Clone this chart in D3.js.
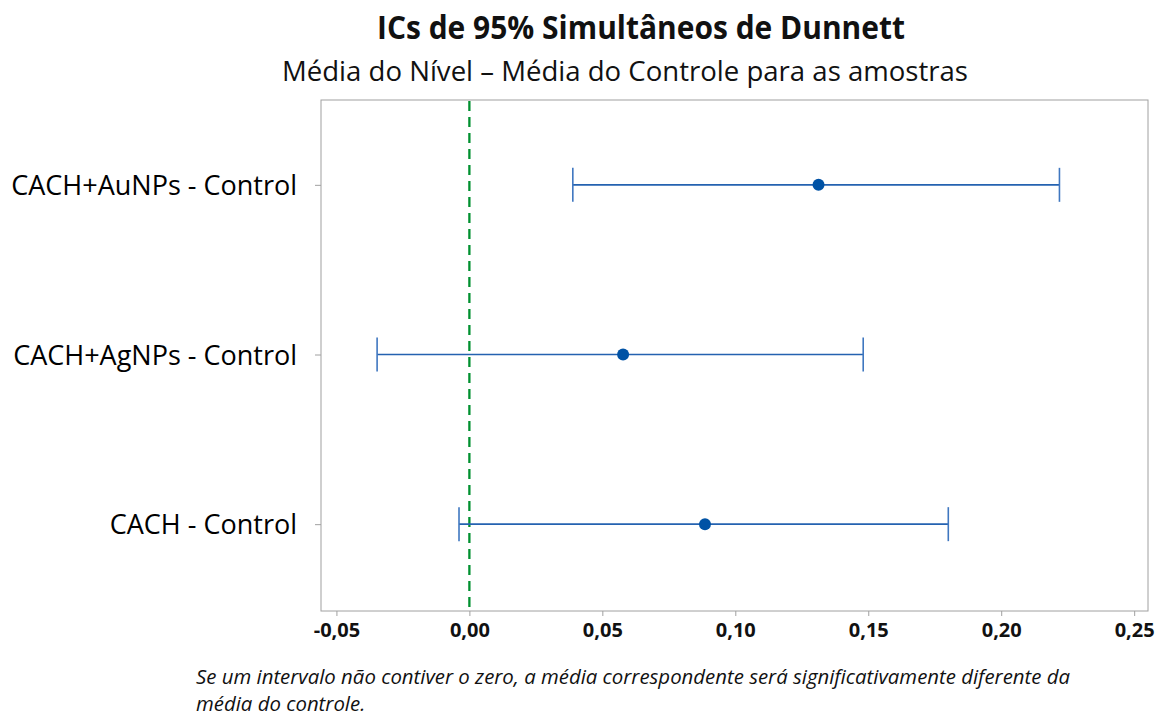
<!DOCTYPE html>
<html>
<head>
<meta charset="utf-8">
<script src="https://cdn.jsdelivr.net/npm/d3@7"></script>
<style>
  body { margin: 0; background: #fff; }
  text { font-family: "Open Sans", sans-serif; }
</style>
</head>
<body>
<div id="chart"></div>
<script>
// data
var comparisons = ["CACH+AuNPs - Control", "CACH+AgNPs - Control", "CACH - Control"];
var centers = [0.1313, 0.0578, 0.0886];
var lowers = [0.0389, -0.0347, -0.0039];
var uppers = [0.2219, 0.1481, 0.1801];
var xTicks = [-0.05, 0.00, 0.05, 0.10, 0.15, 0.20, 0.25];
var titleText = "ICs de 95% Simultâneos de Dunnett";
var subtitleText = "Média do Nível – Média do Controle para as amostras";
var footLines = ["Se um intervalo não contiver o zero, a média correspondente será significativamente diferente da",
                 "média do controle."];

var rows = comparisons.map(function(c, i) {
  return {name: c, mid: centers[i], lo: lowers[i], hi: uppers[i]};
});

// set the dimensions and margins of the graph
var margin = {top: 100, right: 16, bottom: 106, left: 321},
    width = 1164 - margin.left - margin.right,
    height = 717 - margin.top - margin.bottom;

var svg = d3.select("#chart")
  .append("svg")
  .attr("width", 1164)
  .attr("height", 717);

var g = svg.append("g")
  .attr("transform", "translate(" + margin.left + "," + margin.top + ")");

var x = d3.scaleLinear()
  .domain([-0.0558, 0.2552])
  .range([0, width]);

var y = d3.scalePoint()
  .domain(comparisons)
  .range([0, height - 2])
  .padding(0.5);

var ptBr = d3.formatLocale({decimal: ",", thousands: ".", grouping: [3], currency: ["", ""], minus: "-"});

// x axis
var xAxis = g.append("g")
  .attr("transform", "translate(0," + height + ")")
  .call(d3.axisBottom(x).tickValues(xTicks).tickSize(5).tickPadding(7).tickFormat(ptBr.format(".2f")));
xAxis.select(".domain").remove();
xAxis.selectAll("line").attr("stroke", "#a0a0a0");
xAxis.selectAll("text")
  .style("font-size", "20px")
  .style("font-weight", "bold")
  .attr("fill", "#111");

// y axis
var yAxis = g.append("g")
  .call(d3.axisLeft(y).tickSize(6).tickPadding(18));
yAxis.select(".domain").remove();
yAxis.selectAll("line").attr("stroke", "#a0a0a0");
yAxis.selectAll("text")
  .style("font-size", "27px")
  .attr("dy", "0.36em")
  .attr("fill", "#000");

// frame
g.append("rect")
  .attr("width", width)
  .attr("height", height)
  .attr("fill", "none")
  .attr("stroke", "#a0a0a0")
  .attr("stroke-width", 1);

// zero reference line
g.append("line")
  .attr("x1", x(0)).attr("x2", x(0))
  .attr("y1", 1).attr("y2", height)
  .attr("stroke", "#00902f")
  .attr("stroke-width", 2.3)
  .attr("stroke-dasharray", "10,6");

// intervals
var bars = g.selectAll(".ci")
  .data(rows)
  .enter()
  .append("g")
  .attr("class", "ci");

bars.append("line")
  .attr("x1", function(d) { return x(d.lo); })
  .attr("x2", function(d) { return x(d.hi); })
  .attr("y1", function(d) { return y(d.name); })
  .attr("y2", function(d) { return y(d.name); })
  .attr("stroke", "#2462b0")
  .attr("stroke-width", 1.6);

["lo", "hi"].forEach(function(k) {
  bars.append("line")
    .attr("x1", function(d) { return x(d[k]); })
    .attr("x2", function(d) { return x(d[k]); })
    .attr("y1", function(d) { return y(d.name) - 17; })
    .attr("y2", function(d) { return y(d.name) + 17; })
    .attr("stroke", "#3f77c0")
    .attr("stroke-width", 1.6);
});

bars.append("circle")
  .attr("cx", function(d) { return x(d.mid); })
  .attr("cy", function(d) { return y(d.name); })
  .attr("r", 6)
  .attr("fill", "#0052a5");

// titles
svg.append("text")
  .attr("x", 377).attr("y", 39)
  .attr("textLength", 528)
  .attr("lengthAdjust", "spacingAndGlyphs")
  .style("font-size", "32px")
  .style("font-weight", "bold")
  .attr("fill", "#111")
  .text(titleText);

svg.append("text")
  .attr("x", 282).attr("y", 81)
  .attr("textLength", 686)
  .attr("lengthAdjust", "spacingAndGlyphs")
  .style("font-size", "27px")
  .attr("fill", "#111")
  .text(subtitleText);

// footnote, squeezed to the width of the first line
var foot = svg.selectAll(".foot")
  .data(footLines)
  .enter()
  .append("text")
  .attr("class", "foot")
  .attr("x", 196)
  .attr("y", function(d, i) { return 684 + i * 27; })
  .style("font-size", "20.5px")
  .style("font-style", "italic")
  .attr("fill", "#111")
  .text(function(d) { return d; });

var ratio = 874 / foot.nodes()[0].getComputedTextLength();
foot.each(function() {
  d3.select(this)
    .attr("textLength", this.getComputedTextLength() * ratio)
    .attr("lengthAdjust", "spacingAndGlyphs");
});
</script>
</body>
</html>
